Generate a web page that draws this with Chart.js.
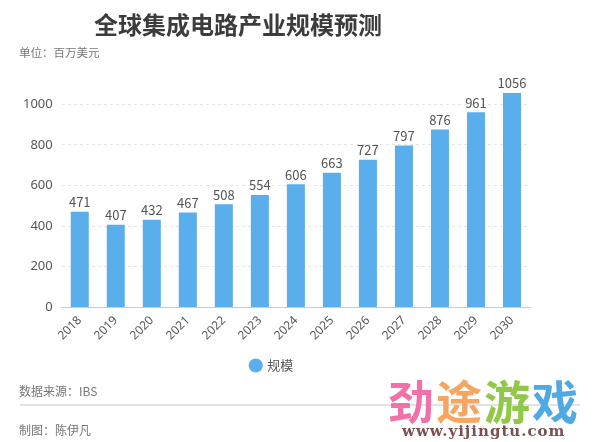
<!DOCTYPE html>
<html>
<head>
<meta charset="utf-8">
<script src="https://cdn.jsdelivr.net/npm/chart.js@4.4.1/dist/chart.umd.min.js"></script>
<style>
  html, body { margin: 0; padding: 0; background: #fff; }
  body { width: 600px; height: 442px; position: relative; overflow: hidden;
    font-family: "Noto Sans CJK SC", "Noto Sans", sans-serif; }
  .t { position: absolute; white-space: nowrap; }
  #title { left: 0; width: 476px; top: 6px; text-align: center; font-size: 24px; font-weight: bold; color: #3c3c3c; }
  #unit { left: 19px; top: 44px; font-size: 11.5px; color: #777; }
  #src { left: 19px; top: 382px; font-size: 12px; color: #777; }
  #maker { left: 19px; top: 421px; font-size: 12px; color: #777; }
  #rule { position: absolute; left: 20px; top: 404px; width: 560px; height: 2px; background: #e2e2e2; }
  #wm { left: 388px; top: 366px; font-size: 46px; font-weight: bold; letter-spacing: 2px; }
  #url { left: 402px; top: 422px; font-size: 15px; font-weight: bold; color: #7a5050;
    font-family: "DejaVu Serif", "Liberation Serif", serif; letter-spacing: 1px; }
  #chart-wrap { position: absolute; left: 0; top: 0; width: 600px; height: 384px; }
</style>
</head>
<body>
<div id="chart-wrap"><canvas id="c"></canvas></div>
<div class="t" id="title">全球集成电路产业规模预测</div>
<div class="t" id="unit">单位：百万美元</div>
<div class="t" id="src">数据来源：IBS</div>
<div id="rule"></div>
<div class="t" id="maker">制图：陈伊凡</div>
<div class="t" id="wm"><span style="color:#f271aa">劲</span><span style="color:#f6a660">途</span><span style="color:#92c84a">游</span><span style="color:#4fa9e2">戏</span></div>
<div class="t" id="url">www.yijingtu.com</div>
<script>
const years = ["2018", "2019", "2020", "2021", "2022", "2023", "2024", "2025", "2026", "2027", "2028", "2029", "2030"];
const scale = [471, 407, 432, 467, 508, 554, 606, 663, 727, 797, 876, 961, 1056];
const yTicks = [0, 200, 400, 600, 800, 1000];

// value labels above each bar
const barLabels = {
  id: "barLabels",
  afterDatasetsDraw(chart) {
    const ctx = chart.ctx;
    const meta = chart.getDatasetMeta(0);
    ctx.save();
    ctx.font = '13px "Noto Sans CJK SC", "Noto Sans", sans-serif';
    ctx.fillStyle = "#555";
    ctx.textAlign = "center";
    ctx.textBaseline = "bottom";
    meta.data.forEach((bar, i) => {
      ctx.fillText(String(scale[i]), bar.x, bar.y - 3);
    });
    ctx.restore();
  }
};

new Chart(document.getElementById("c"), {
  type: "bar",
  data: {
    labels: years,
    datasets: [{
      label: "规模",
      data: scale,
      backgroundColor: "#5aaeeb",
      categoryPercentage: 1,
      barPercentage: 0.5
    }]
  },
  options: {
    responsive: true,
    maintainAspectRatio: false,
    animation: false,
    layout: { padding: { left: 14, right: 70, top: 84, bottom: 2 } },
    plugins: {
      legend: {
        position: "bottom",
        labels: {
          usePointStyle: true, pointStyle: "circle", boxWidth: 10, boxHeight: 10,
          color: "#555", font: { size: 13, family: '"Noto Sans CJK SC", sans-serif' }, padding: 10
        }
      },
      tooltip: { enabled: false }
    },
    scales: {
      x: {
        offset: true,
        grid: { display: false, drawTicks: false },
        border: { color: "#ccc" },
        ticks: { color: "#555", maxRotation: 45, minRotation: 45, padding: 6,
          font: { size: 12, family: '"Noto Sans", sans-serif' } }
      },
      y: {
        min: 0, max: 1100,
        afterBuildTicks(s) { s.ticks = yTicks.map(v => ({ value: v })); },
        grid: { color: "#e6e6e6", drawTicks: false },
        border: { display: false, dash: [3, 3] },
        ticks: { color: "#555", padding: 9, font: { size: 13, family: '"Noto Sans", sans-serif' },
          callback: v => String(v) }
      }
    }
  },
  plugins: [barLabels]
});
</script>
</body>
</html>
